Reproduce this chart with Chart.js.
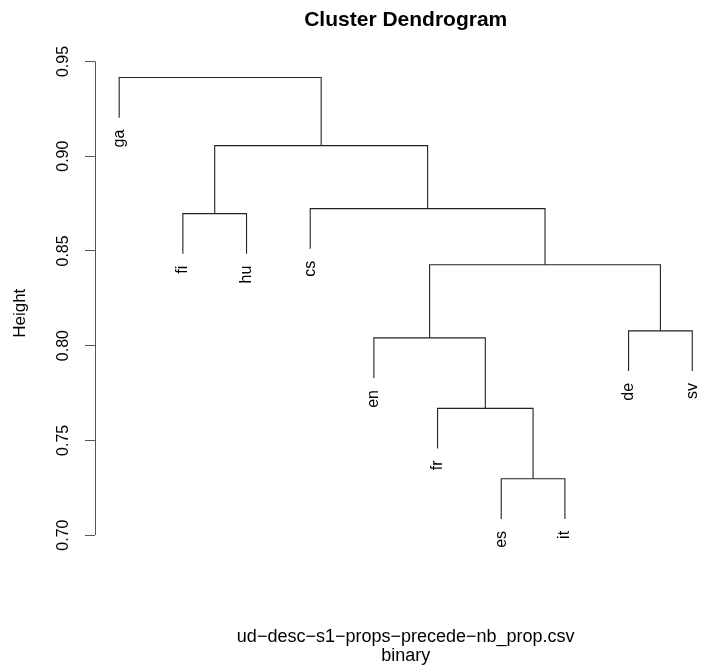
<!DOCTYPE html>
<html><head><meta charset="utf-8">
<script src="https://cdn.jsdelivr.net/npm/chart.js@4/dist/chart.umd.min.js"></script>
<style>html,body{margin:0;padding:0;background:#fff;} #wrap{width:702px;height:666px;}</style>
</head><body><div id="wrap"><canvas id="c" width="702" height="666"></canvas></div>
<script>
// Leaves in dendrogram order
const leafLabels = ['ga','fi','hu','cs','en','fr','es','it','de','sv'];
// R-style merge matrix: negative = leaf index (1-based, in leafLabels order), positive = earlier merge step
const mergeLeft    = [-7, -6, -5, -9, 3, -2, -4, 6, -1];
const mergeRight   = [-8,  1,  2, -10, 4, -3, 5, 7, 8];
const mergeHeights = [0.7297, 0.7669, 0.8041, 0.8078, 0.8427, 0.8697, 0.8723, 0.9056, 0.9415];
const yTicks = [0.70, 0.75, 0.80, 0.85, 0.90, 0.95];
const titleText = 'Cluster Dendrogram';
const subLines = ['ud\u2212desc\u2212s1\u2212props\u2212precede\u2212nb_prop.csv', 'binary'];
const yLabel = 'Height';

const hang = 0.1 * (Math.max(...mergeHeights) - Math.min(...mergeHeights));
const FONT = '"Liberation Sans", Arial, Helvetica, sans-serif';

// Build U-shaped links from the merge matrix
const nodeX = [], leafEnds = [];
function childInfo(id, h) {
  if (id < 0) {
    const x = -id;
    leafEnds.push({label: leafLabels[x - 1], x: x, y: h - hang});
    return {x: x, y: h - hang};
  }
  return {x: nodeX[id - 1], y: mergeHeights[id - 1]};
}
const datasets = mergeHeights.map((h, i) => {
  const L = childInfo(mergeLeft[i], h);
  const R = childInfo(mergeRight[i], h);
  nodeX[i] = (L.x + R.x) / 2;
  return {
    data: [{x: L.x, y: L.y}, {x: L.x, y: h}, {x: R.x, y: h}, {x: R.x, y: R.y}],
    showLine: true, borderColor: '#222', borderWidth: 1.1, pointRadius: 0, fill: false, tension: 0
  };
});

const decor = {
  id: 'decor',
  afterDraw(chart) {
    const ctx = chart.ctx, xs = chart.scales.x, ys = chart.scales.y;
    ctx.save();
    ctx.fillStyle = '#000';
    // y axis line between first and last tick
    const ax = chart.chartArea.left;
    ctx.strokeStyle = '#555'; ctx.lineWidth = 1;
    ctx.beginPath();
    ctx.moveTo(ax + 0.5, ys.getPixelForValue(yTicks[0]));
    ctx.lineTo(ax + 0.5, ys.getPixelForValue(yTicks[yTicks.length - 1]));
    ctx.stroke();
    // y tick labels (rotated)
    ctx.font = '16px ' + FONT;
    ctx.textAlign = 'center'; ctx.textBaseline = 'middle';
    yTicks.forEach(v => {
      ctx.save();
      ctx.translate(ax - 31, ys.getPixelForValue(v));
      ctx.rotate(-Math.PI / 2);
      ctx.fillText(v.toFixed(2), 0, 0);
      ctx.restore();
    });
    // y label
    ctx.save();
    ctx.font = '17px ' + FONT;
    ctx.translate(20, (ys.getPixelForValue(yTicks[0]) + ys.getPixelForValue(yTicks[yTicks.length-1])) / 2 + 15);
    ctx.rotate(-Math.PI / 2);
    ctx.fillText(yLabel, 0, 0);
    ctx.restore();
    // leaf labels
    ctx.font = '16px ' + FONT;
    ctx.textAlign = 'right'; ctx.textBaseline = 'middle';
    leafEnds.forEach(l => {
      ctx.save();
      ctx.translate(xs.getPixelForValue(l.x), ys.getPixelForValue(l.y) + 12);
      ctx.rotate(-Math.PI / 2);
      ctx.fillText(l.label, 0, 0);
      ctx.restore();
    });
    // title and sub-lines centred on the plot region
    const cx = xs.getPixelForValue((1 + leafLabels.length) / 2);
    ctx.textAlign = 'center'; ctx.textBaseline = 'alphabetic';
    ctx.font = 'bold 21px ' + FONT;
    ctx.fillText(titleText, cx, 26);
    ctx.font = '18px ' + FONT;
    ctx.fillText(subLines[0], cx, 642);
    ctx.fillText(subLines[1], cx, 661);
    ctx.restore();
  }
};

new Chart(document.getElementById('c'), {
  type: 'scatter',
  data: {datasets: datasets},
  options: {
    responsive: false, animation: false,
    layout: {padding: {top: 52, bottom: 112, left: 0, right: 0}},
    plugins: {legend: {display: false}, tooltip: {enabled: false}, title: {display: false}},
    scales: {
      x: {type: 'linear', display: false, min: 0.62, max: 10.153},
      y: {
        type: 'linear', min: 0.69, max: 0.955,
        afterFit: s => { s.width = 95; },
        afterBuildTicks: s => { s.ticks = yTicks.map(v => ({value: v})); },
        ticks: {display: false},
        grid: {drawOnChartArea: false, drawTicks: true, tickLength: 10, color: '#555', lineWidth: 1},
        border: {display: false}
      }
    }
  },
  plugins: [decor]
});
</script></body></html>
